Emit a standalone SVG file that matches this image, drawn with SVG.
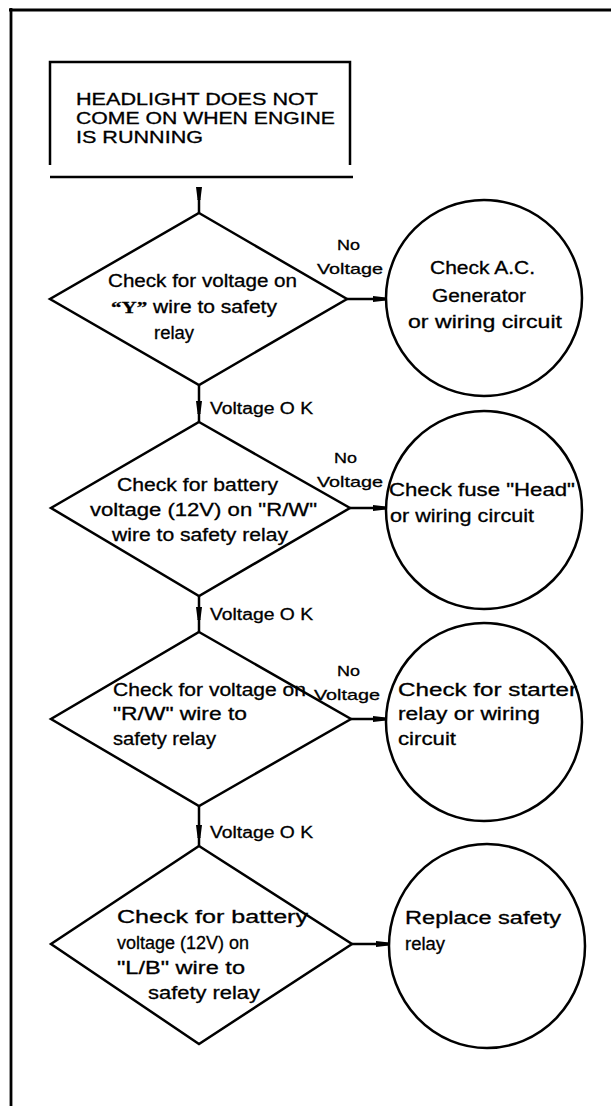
<svg xmlns="http://www.w3.org/2000/svg" width="611" height="1106" viewBox="0 0 611 1106">
<style>
.ln{stroke:#000;fill:none;stroke-width:2.5}
.fr{stroke:#000;fill:none;stroke-width:2.8}
.t{font-family:"Liberation Sans",Arial,sans-serif;font-size:17.5px;fill:#000;stroke:#000;stroke-width:0.3}
.s{font-size:15px}
.ti{font-size:16px}
.y{font-family:"Liberation Serif","Times New Roman",serif;font-weight:bold}
</style>
<defs>
<marker id="ah" markerUnits="userSpaceOnUse" markerWidth="14" markerHeight="10" refX="13" refY="5" orient="auto">
<path d="M0,2 L13,3.6 L13,6.4 L0,8 z" fill="#000"/>
</marker>
</defs>
<rect width="611" height="1106" fill="#fff"/>
<g id="frame">
<line class="fr" x1="9" y1="10" x2="611" y2="10"/>
<line class="fr" x1="11" y1="8" x2="11" y2="1106"/>
</g>
<g id="title">
<path class="ln" d="M50,165 V62 H350 V165"/>
<line class="ln" x1="50" y1="177" x2="353" y2="177"/>
<text class="t ti" x="76" y="105" textLength="242" lengthAdjust="spacingAndGlyphs">HEADLIGHT DOES NOT</text>
<text class="t ti" x="76" y="124" textLength="259" lengthAdjust="spacingAndGlyphs">COME ON WHEN ENGINE</text>
<text class="t ti" x="76" y="143" textLength="127" lengthAdjust="spacingAndGlyphs">IS RUNNING</text>
</g>
<g id="d1">
<polygon class="ln" points="199,213 347,299 199,385 50,299"/>
<text class="t" x="108" y="287" textLength="189" lengthAdjust="spacingAndGlyphs">Check for voltage on</text>
<text class="t" x="111" y="313" textLength="166" lengthAdjust="spacingAndGlyphs"><tspan class="y">“Y”</tspan> wire to safety</text>
<text class="t" x="154" y="339" textLength="40" lengthAdjust="spacingAndGlyphs">relay</text>
</g>
<g id="c1">
<ellipse class="ln" cx="484" cy="298" rx="98" ry="98"/>
<text class="t" x="430" y="274" textLength="105" lengthAdjust="spacingAndGlyphs">Check A.C.</text>
<text class="t" x="432" y="302" textLength="94" lengthAdjust="spacingAndGlyphs">Generator</text>
<text class="t" x="408" y="328" textLength="154" lengthAdjust="spacingAndGlyphs">or wiring circuit</text>
</g>
<g id="d2">
<polygon class="ln" points="199,422 350,508 199,596 51,508"/>
<text class="t" x="117" y="491" textLength="161" lengthAdjust="spacingAndGlyphs">Check for battery</text>
<text class="t" x="90" y="516" textLength="227" lengthAdjust="spacingAndGlyphs">voltage (12V) on "R/W"</text>
<text class="t" x="112" y="541" textLength="176" lengthAdjust="spacingAndGlyphs">wire to safety relay</text>
</g>
<g id="c2">
<ellipse class="ln" cx="484" cy="510" rx="98" ry="99"/>
<text class="t" x="389" y="496" textLength="186" lengthAdjust="spacingAndGlyphs">Check fuse "Head"</text>
<text class="t" x="390" y="522" textLength="144" lengthAdjust="spacingAndGlyphs">or wiring circuit</text>
</g>
<g id="d3">
<polygon class="ln" points="199,632 351,719 199,806 51,719"/>
<text class="t" x="113" y="696" textLength="193" lengthAdjust="spacingAndGlyphs">Check for voltage on</text>
<text class="t" x="113" y="720" textLength="134" lengthAdjust="spacingAndGlyphs">"R/W" wire to</text>
<text class="t" x="113" y="745" textLength="103" lengthAdjust="spacingAndGlyphs">safety relay</text>
</g>
<g id="c3">
<ellipse class="ln" cx="484" cy="722" rx="98" ry="99"/>
<text class="t" x="398" y="696" textLength="179" lengthAdjust="spacingAndGlyphs">Check for starter</text>
<text class="t" x="398" y="720" textLength="142" lengthAdjust="spacingAndGlyphs">relay or wiring</text>
<text class="t" x="398" y="745" textLength="58" lengthAdjust="spacingAndGlyphs">circuit</text>
</g>
<g id="d4">
<polygon class="ln" points="199,846 352,944 199,1044 51,944"/>
<text class="t" x="117" y="923" textLength="191" lengthAdjust="spacingAndGlyphs">Check for battery</text>
<text class="t" x="117" y="949" textLength="132" lengthAdjust="spacingAndGlyphs">voltage (12V) on</text>
<text class="t" x="117" y="974" textLength="128" lengthAdjust="spacingAndGlyphs">"L/B" wire to</text>
<text class="t" x="148" y="999" textLength="112" lengthAdjust="spacingAndGlyphs">safety relay</text>
</g>
<g id="c4">
<ellipse class="ln" cx="487" cy="946" rx="98" ry="102"/>
<text class="t" x="405" y="924" textLength="156" lengthAdjust="spacingAndGlyphs">Replace safety</text>
<text class="t" x="405" y="950" textLength="40" lengthAdjust="spacingAndGlyphs">relay</text>
</g>
<g id="connectors">
<line class="ln" x1="199" y1="188" x2="199" y2="200" marker-end="url(#ah)"/>
<line class="ln" x1="199" y1="199" x2="199" y2="213"/>
<line class="ln" x1="199" y1="385" x2="199" y2="414" marker-end="url(#ah)"/>
<line class="ln" x1="199" y1="413" x2="199" y2="422"/>
<line class="ln" x1="199" y1="596" x2="199" y2="620" marker-end="url(#ah)"/>
<line class="ln" x1="199" y1="619" x2="199" y2="632"/>
<line class="ln" x1="199" y1="806" x2="199" y2="838" marker-end="url(#ah)"/>
<line class="ln" x1="199" y1="837" x2="199" y2="846"/>
<line class="ln" x1="347" y1="299" x2="386" y2="299" marker-end="url(#ah)"/>
<line class="ln" x1="350" y1="508" x2="386" y2="508" marker-end="url(#ah)"/>
<line class="ln" x1="351" y1="719" x2="386" y2="719" marker-end="url(#ah)"/>
<line class="ln" x1="352" y1="944" x2="389" y2="944" marker-end="url(#ah)"/>
<text class="t ti" x="210" y="414" textLength="103" lengthAdjust="spacingAndGlyphs">Voltage O K</text>
<text class="t ti" x="210" y="620" textLength="103" lengthAdjust="spacingAndGlyphs">Voltage O K</text>
<text class="t ti" x="210" y="838" textLength="103" lengthAdjust="spacingAndGlyphs">Voltage O K</text>
<text class="t s" x="337" y="250" textLength="23" lengthAdjust="spacingAndGlyphs">No</text>
<text class="t s" x="317" y="274" textLength="66" lengthAdjust="spacingAndGlyphs">Voltage</text>
<text class="t s" x="334" y="463" textLength="23" lengthAdjust="spacingAndGlyphs">No</text>
<text class="t s" x="317" y="487" textLength="66" lengthAdjust="spacingAndGlyphs">Voltage</text>
<text class="t s" x="337" y="676" textLength="23" lengthAdjust="spacingAndGlyphs">No</text>
<text class="t s" x="314" y="700" textLength="66" lengthAdjust="spacingAndGlyphs">Voltage</text>
</g>
</svg>
